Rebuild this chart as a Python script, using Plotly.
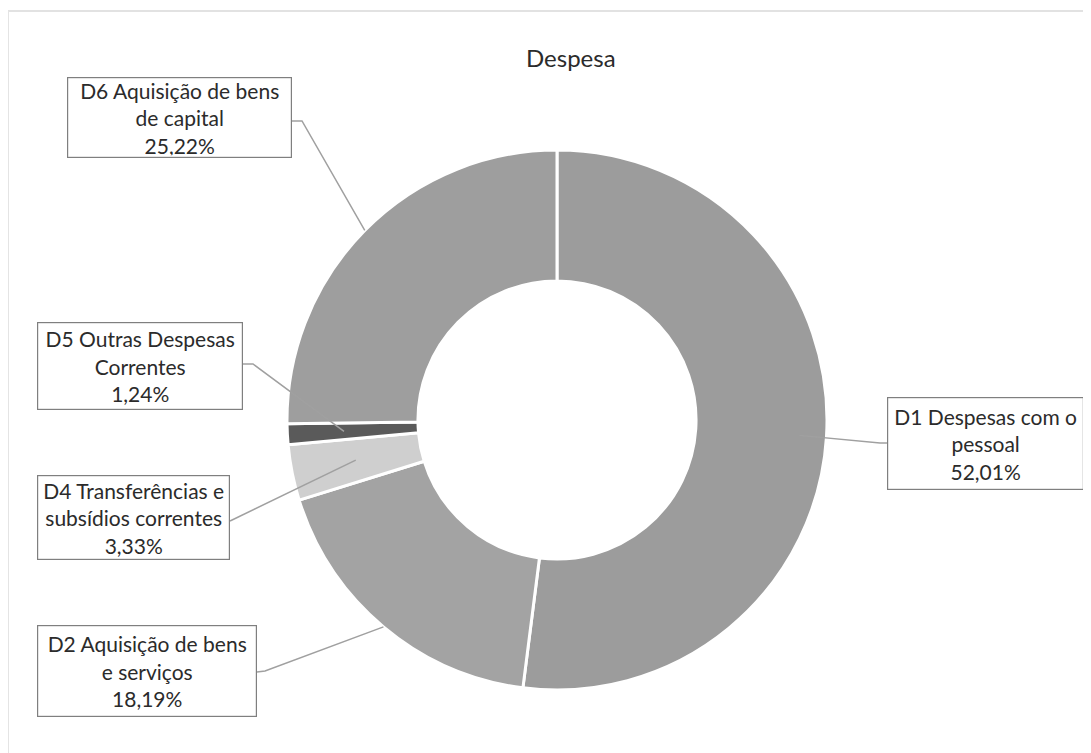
import math
import plotly.graph_objects as go

# ---- data ----
categories = ["D1 Despesas com o pessoal", "D2 Aquisição de bens e serviços",
              "D4 Transferências e subsídios correntes", "D5 Outras Despesas Correntes",
              "D6 Aquisição de bens de capital"]
values = [52.01, 18.19, 3.33, 1.24, 25.22]
label_texts = ["D1 Despesas com o<br>pessoal<br>52,01%",
               "D2 Aquisição de bens<br>e serviços<br>18,19%",
               "D4 Transferências e<br>subsídios correntes<br>3,33%",
               "D5 Outras Despesas<br>Correntes<br>1,24%",
               "D6 Aquisição de bens<br>de capital<br>25,22%"]
colors = ["#9c9c9c", "#a3a3a3", "#cfcfcf", "#5a5a5a", "#9e9e9e"]

# ---- layout geometry (pixels in the screenshot) ----
OFF = 8                      # page body margin
W, H = 1091 - OFF, 753 - OFF  # figure size
CX, CY, R = 557, 420, 270
HOLE = 0.515

# label boxes: left, top, right, bottom
boxes = [(887, 397, 1084, 490), (37, 625, 257, 717), (37, 475, 230, 560),
         (37, 322, 243, 410), (67, 77, 292, 158)]
# leader line: start point on box, optional elbow, anchor radius fraction
leaders = [((887, 443), (880, 443), 0.90),
           ((257, 672), (265, 671), 1.00),
           ((230, 521), None, 0.76),
           ((243, 364), (253, 364), 0.79),
           ((292, 121), (302, 121), 1.00)]

px = lambda x: (x - OFF) / W
py = lambda y: 1 - (y - OFF) / H

FONT = "Lato, Carlito, sans-serif"

fig = go.Figure()
fig.add_trace(go.Pie(
    labels=categories, values=values, sort=False, direction="clockwise",
    rotation=0, hole=HOLE, textinfo="none", hoverinfo="label+percent",
    marker=dict(colors=colors, line=dict(color="white", width=3)),
    domain=dict(x=[px(CX - R), px(CX + R)], y=[py(CY + R), py(CY - R)]),
    showlegend=False,
))

total = sum(values)
cum = 0.0
shapes = []
annotations = []
for i, v in enumerate(values):
    mid = (cum + v / 2) / total * 2 * math.pi
    cum += v
    start, elbow, rf = leaders[i]
    ax = CX + R * rf * math.sin(mid)
    ay = CY - R * rf * math.cos(mid)
    pts = [start] + ([elbow] if elbow else []) + [(ax, ay)]
    path = "M " + " L ".join(f"{px(x):.5f},{py(y):.5f}" for x, y in pts)
    shapes.append(dict(type="path", path=path, xref="paper", yref="paper",
                       line=dict(color="#a0a0a0", width=1.5)))
    l, t, r, b = boxes[i]
    annotations.append(dict(
        x=px((l + r) / 2), y=py((t + b) / 2), xref="paper", yref="paper",
        xanchor="center", yanchor="middle", showarrow=False,
        text=label_texts[i], align="center",
        width=r - l - 6, height=b - t - 6, borderpad=2,
        bordercolor="#7f7f7f", borderwidth=1.2, bgcolor="white",
        font=dict(family=FONT, size=21, color="#2b2b2b"),
    ))

# faint scan border (top and left)
shapes.append(dict(type="line", xref="paper", yref="paper", x0=px(7), x1=1,
                   y0=py(11), y1=py(11), line=dict(color="#d8d8d8", width=1.5)))
shapes.append(dict(type="line", xref="paper", yref="paper", x0=px(8.5), x1=px(8.5),
                   y0=py(11), y1=0, line=dict(color="#e4e4e4", width=1)))

annotations.append(dict(
    x=px(CX + 14), y=py(57), xref="paper", yref="paper", xanchor="center", yanchor="middle",
    showarrow=False, text="Despesa",
    font=dict(family=FONT, size=24, color="#2b2b2b"),
))

fig.update_layout(
    width=W, height=H, margin=dict(l=0, r=0, t=0, b=0),
    paper_bgcolor="white", plot_bgcolor="white",
    shapes=shapes, annotations=annotations,
)
fig.write_html("out.html")
